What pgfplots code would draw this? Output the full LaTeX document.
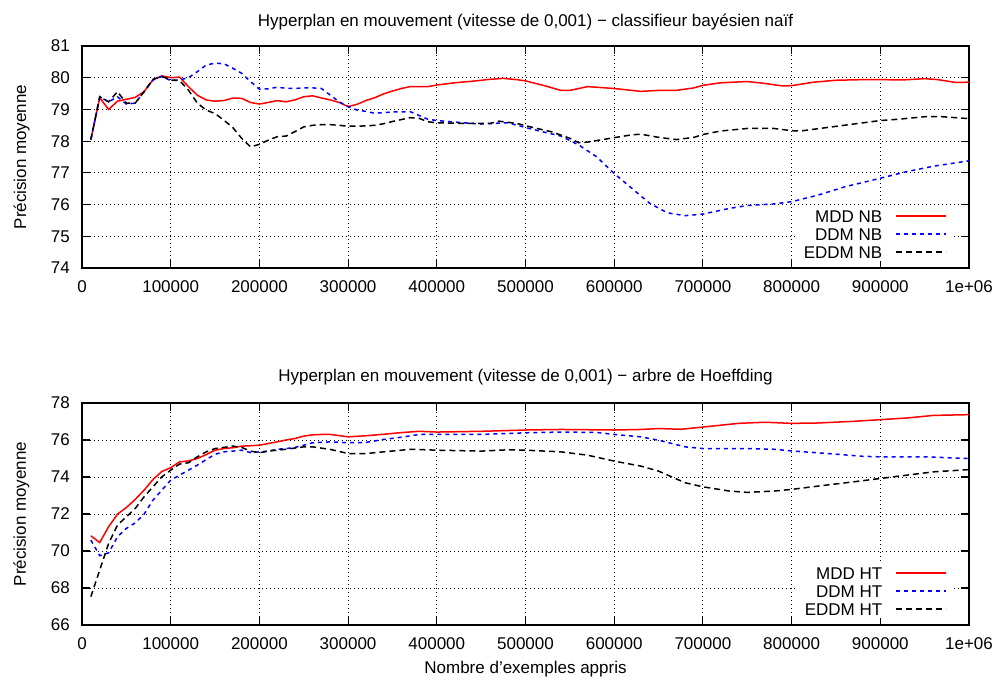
\documentclass[border=0pt]{standalone}
\usepackage{fontspec}
\setmainfont{Liberation Sans}
\usepackage{pgfplots}
\pgfplotsset{compat=1.18}
\usepackage{pgfplotstable}

% --- naive Bayes ---
\pgfplotstableread{
x y
10000 78.05
20000 79.37
30000 79.00
40000 79.26
50000 79.32
60000 79.38
70000 79.56
80000 79.93
90000 80.06
100000 80.00
110000 80.02
120000 79.72
130000 79.45
140000 79.30
150000 79.26
160000 79.28
170000 79.36
180000 79.35
190000 79.22
200000 79.17
210000 79.22
220000 79.28
230000 79.24
240000 79.30
250000 79.40
260000 79.43
270000 79.36
280000 79.30
290000 79.22
300000 79.09
310000 79.16
320000 79.28
330000 79.37
340000 79.49
350000 79.58
360000 79.66
370000 79.72
380000 79.72
390000 79.72
400000 79.77
420000 79.84
440000 79.89
460000 79.95
475000 79.98
490000 79.94
500000 79.90
520000 79.76
540000 79.60
550000 79.60
570000 79.72
600000 79.66
630000 79.57
650000 79.60
670000 79.60
690000 79.68
700000 79.76
720000 79.84
750000 79.88
770000 79.82
790000 79.74
800000 79.75
825000 79.86
850000 79.92
880000 79.94
900000 79.94
925000 79.93
950000 79.97
965000 79.94
985000 79.85
1000000 79.86
}\mddnb

\pgfplotstableread{
x y
10000 78.05
20000 79.40
30000 79.24
40000 79.40
50000 79.17
60000 79.20
70000 79.56
80000 79.93
90000 80.04
100000 79.91
110000 79.93
120000 80.00
130000 80.19
140000 80.40
150000 80.46
160000 80.44
170000 80.30
180000 80.14
190000 79.88
200000 79.64
210000 79.65
220000 79.70
230000 79.67
240000 79.66
250000 79.68
260000 79.68
270000 79.66
280000 79.45
290000 79.24
300000 79.09
310000 78.98
320000 78.94
330000 78.88
340000 78.90
350000 78.92
370000 78.93
390000 78.69
400000 78.65
430000 78.58
450000 78.54
480000 78.58
500000 78.43
520000 78.29
540000 78.16
560000 77.88
580000 77.51
600000 76.98
620000 76.51
640000 76.04
660000 75.74
680000 75.65
700000 75.70
730000 75.88
750000 75.97
780000 76.02
800000 76.09
830000 76.30
860000 76.56
900000 76.83
930000 77.04
960000 77.21
1000000 77.38
}\ddmnb

\pgfplotstableread{
x y
10000 78.05
20000 79.40
30000 79.24
40000 79.56
50000 79.20
60000 79.20
70000 79.56
80000 79.95
90000 80.04
100000 79.93
110000 79.91
120000 79.61
130000 79.20
140000 78.98
150000 78.87
160000 78.66
170000 78.43
180000 78.09
190000 77.82
200000 77.90
210000 78.03
220000 78.14
230000 78.16
240000 78.30
250000 78.45
260000 78.50
270000 78.52
280000 78.52
290000 78.50
300000 78.47
320000 78.48
330000 78.50
340000 78.55
350000 78.62
360000 78.68
370000 78.74
380000 78.72
390000 78.61
400000 78.58
430000 78.56
460000 78.56
470000 78.63
490000 78.56
510000 78.42
530000 78.29
550000 78.09
560000 77.95
570000 77.97
600000 78.11
620000 78.20
630000 78.22
650000 78.12
670000 78.05
690000 78.12
700000 78.21
720000 78.32
750000 78.40
780000 78.40
800000 78.33
810000 78.32
840000 78.43
870000 78.54
900000 78.65
920000 78.69
950000 78.77
970000 78.77
1000000 78.71
}\eddmnb

% --- Hoeffding tree ---
\pgfplotstableread{
x y
10000 70.82
20000 70.46
30000 71.31
40000 71.99
50000 72.35
60000 72.79
70000 73.29
80000 73.86
90000 74.30
100000 74.50
110000 74.82
120000 74.87
130000 75.00
140000 75.21
150000 75.45
160000 75.54
170000 75.58
180000 75.67
190000 75.69
200000 75.72
210000 75.81
220000 75.90
230000 76.00
240000 76.08
250000 76.21
260000 76.28
270000 76.30
280000 76.30
290000 76.24
300000 76.17
320000 76.23
340000 76.31
360000 76.40
380000 76.47
400000 76.43
450000 76.47
500000 76.54
540000 76.57
600000 76.54
630000 76.57
650000 76.62
675000 76.58
700000 76.70
740000 76.90
770000 76.96
800000 76.90
830000 76.92
870000 77.01
900000 77.10
930000 77.19
960000 77.33
1000000 77.37
}\mddht

\pgfplotstableread{
x y
10000 70.59
20000 69.75
30000 69.90
40000 70.77
50000 71.22
60000 71.52
70000 71.99
80000 72.75
90000 73.29
100000 73.83
110000 74.10
120000 74.37
130000 74.64
140000 74.94
150000 75.23
160000 75.36
170000 75.40
180000 75.45
190000 75.32
200000 75.36
210000 75.40
220000 75.50
230000 75.54
240000 75.60
250000 75.72
260000 75.85
280000 75.90
300000 75.85
320000 75.87
340000 76.03
360000 76.15
380000 76.30
400000 76.30
450000 76.30
500000 76.39
540000 76.43
580000 76.41
600000 76.30
630000 76.17
650000 75.99
680000 75.63
700000 75.54
750000 75.54
780000 75.50
800000 75.41
840000 75.27
880000 75.12
900000 75.09
950000 75.09
1000000 75.00
}\ddmht

\pgfplotstableread{
x y
10000 67.53
20000 68.97
30000 70.41
40000 71.40
50000 71.85
60000 72.30
70000 72.93
80000 73.47
90000 74.01
100000 74.37
110000 74.70
120000 74.77
130000 75.09
140000 75.36
150000 75.54
160000 75.60
170000 75.67
180000 75.60
190000 75.40
200000 75.31
210000 75.40
230000 75.50
250000 75.63
260000 75.63
280000 75.49
300000 75.27
320000 75.27
340000 75.36
360000 75.45
370000 75.50
400000 75.45
450000 75.40
480000 75.47
500000 75.45
540000 75.36
570000 75.18
600000 74.86
630000 74.59
650000 74.32
680000 73.69
700000 73.47
730000 73.24
750000 73.17
780000 73.24
800000 73.33
830000 73.51
870000 73.74
900000 73.92
930000 74.10
960000 74.28
1000000 74.40
}\eddmht

\newcommand\fnt{\fontsize{10.2pt}{12pt}\selectfont}

\pgfplotsset{
  hyp/.style={
    scale only axis,
    width=532.2pt, height=133.2pt,
    anchor=south west,
    xmin=0, xmax=1000000,
    xtick={0,100000,200000,300000,400000,500000,600000,700000,800000,900000,1000000},
    xticklabels={0,100000,200000,300000,400000,500000,600000,700000,800000,900000,1e+06},
    scaled x ticks=false,
    tick pos=both, tick align=inside,
    major tick length=4.8pt,
    every tick/.style={black, line width=0.7pt},
    axis line style={line width=0.9pt},
    grid=major,
    major grid style={black, dotted, line width=0.6pt},
    font=\fnt,
    ticklabel style={font=\fnt},
    yticklabel style={/pgf/number format/assume math mode=true, xshift=-3.8pt},
    xticklabel style={yshift=-4.2pt},
    every axis title shift=0pt,
    ylabel={Précision moyenne},
    ylabel style={at={(axis description cs:0,0.5)}, anchor=base, yshift=33.6pt},
    legend plot pos=right,
    legend cell align=right,
    legend image code/.code={\draw[##1] (0pt,0pt) -- (30pt,0pt);},
    legend style={draw=none, fill=white, anchor=north east,
      at={(0.9828,0.2761)},
      inner xsep=4pt, inner ysep=1pt,
      row sep=2pt, column sep=7.8pt, font=\fnt,
      nodes={inner sep=0pt, text height=8pt, text depth=0.8pt}},
  },
  mdd/.style={red, line width=0.9pt, solid},
  ddm/.style={blue, line width=0.9pt, dash pattern=on 2.4pt off 2.4pt},
  eddm/.style={black, line width=0.9pt, dash pattern=on 3.6pt off 2.4pt},
}

\begin{document}
\begin{tikzpicture}
\path[use as bounding box] (0,0) rectangle (600pt,-407.4pt);

\begin{axis}[hyp,
  at={(49.2pt,-160.8pt)},
  ymin=74, ymax=81, ytick={74,75,...,81},
  title={Hyperplan en mouvement (vitesse de 0,001) − classifieur bayésien naïf},
  title style={at={(0.5,1)}, anchor=base, yshift=11.6pt},
]
\addplot[mdd] table[x=x,y=y] {\mddnb};
\addlegendentry{MDD NB}
\addplot[ddm] table[x=x,y=y] {\ddmnb};
\addlegendentry{DDM NB}
\addplot[eddm] table[x=x,y=y] {\eddmnb};
\addlegendentry{EDDM NB}
\end{axis}

\begin{axis}[hyp,
  at={(49.2pt,-375pt)},
  ymin=66, ymax=78, ytick={66,68,...,78},
  title={Hyperplan en mouvement (vitesse de 0,001) − arbre de Hoeffding},
  title style={at={(0.5,1)}, anchor=base, yshift=12.8pt},
  xlabel={Nombre d’exemples appris},
  xlabel style={at={(axis description cs:0.5,0)}, anchor=base, yshift=-28.8pt},
]
\addplot[mdd] table[x=x,y=y] {\mddht};
\addlegendentry{MDD HT}
\addplot[ddm] table[x=x,y=y] {\ddmht};
\addlegendentry{DDM HT}
\addplot[eddm] table[x=x,y=y] {\eddmht};
\addlegendentry{EDDM HT}
\end{axis}
\end{tikzpicture}
\end{document}
